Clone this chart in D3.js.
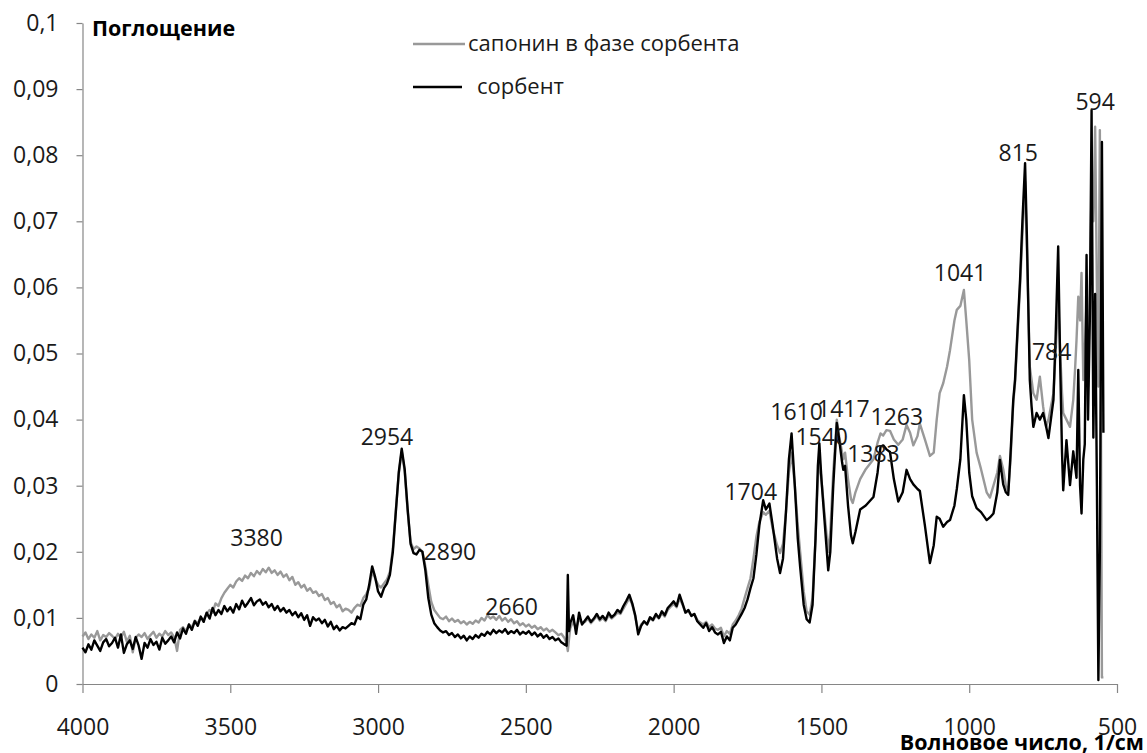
<!DOCTYPE html>
<html>
<head>
<meta charset="utf-8">
<script src="https://cdn.jsdelivr.net/npm/d3@7"></script>
<style>
  html, body { margin: 0; padding: 0; background: #fff; }
  svg { display: block; font-family: "Open Sans", "Noto Sans", sans-serif; }
</style>
</head>
<body>
<div id="irChart"></div>
<script>
// wavenumber grid, 1/cm (shared by both spectra)
const waveNumbers = [
  4000,3990,3980,3970,3960,3950,3940,3930,3920,3910,
  3900,3890,3880,3870,3860,3850,3840,3830,3820,3810,
  3800,3790,3780,3770,3760,3750,3740,3730,3720,3710,
  3700,3690,3680,3670,3660,3650,3640,3630,3620,3610,
  3600,3590,3580,3570,3560,3550,3540,3530,3520,3510,
  3500,3490,3480,3470,3460,3450,3440,3430,3420,3410,
  3400,3390,3380,3370,3360,3350,3340,3330,3320,3310,
  3300,3290,3280,3270,3260,3250,3240,3230,3220,3210,
  3200,3190,3180,3170,3160,3150,3140,3130,3120,3110,
  3100,3090,3080,3070,3060,3050,3040,3030,3020,3010,
  3000,2990,2980,2970,2960,2950,2940,2930,2920,2910,
  2900,2890,2880,2870,2860,2850,2840,2830,2820,2810,
  2800,2790,2780,2770,2760,2750,2740,2730,2720,2710,
  2700,2690,2680,2670,2660,2650,2640,2630,2620,2610,
  2600,2590,2580,2570,2560,2550,2540,2530,2520,2510,
  2500,2490,2480,2470,2460,2450,2440,2430,2420,2410,
  2400,2390,2380,2370,2362,2358,2354,2350,2340,2330,2320,2310,
  2300,2290,2280,2270,2260,2250,2240,2230,2220,2210,
  2200,2190,2180,2170,2160,2150,2140,2130,2120,2110,
  2100,2090,2080,2070,2060,2050,2040,2030,2020,2010,
  2000,1990,1980,1970,1960,1950,1940,1930,1920,1910,
  1900,1890,1880,1870,1860,1850,1840,1830,1820,1810,
  1800,1790,1780,1770,
  1760,1750,1740,1730,1720,1710,1697,1688,1676,1665,
  1650,1640,1630,1620,1610,1601,1590,1580,1572,1560,
  1550,1540,1530,1520,1512,1507,1500,1490,1477,1470,
  1460,1448,1440,1430,1426,1420,1410,1400,1394,1385,
  1369,1350,1324,1310,1300,1291,1280,1268,1255,1240,
  1225,1212,1200,1189,1175,1167,1150,1133,1120,1110,
  1100,1088,1075,1065,1050,1042,1030,1018,1010,1000,
  990,975,960,941,930,918,905,896,885,876,
  868,860,851,845,835,828,820,811,805,795,
  789,783,772,761,750,740,732,715,708,699,
  692,686,682,671,659,648,642,637,631,625,
  620,614,609,603,598,592,586,580,574,568,
  563,558,551,546
];

// сорбент (black)
const sorbentAbs = [
  0.0055,0.0048,0.0060,0.0052,0.0066,0.0058,0.0050,0.0063,0.0068,0.0057,
  0.0062,0.0070,0.0055,0.0075,0.0047,0.0060,0.0066,0.0053,0.0071,0.0058,
  0.0038,0.0062,0.0055,0.0068,0.0059,0.0064,0.0052,0.0070,0.0061,0.0066,
  0.0072,0.0063,0.0078,0.0069,0.0084,0.0076,0.0090,0.0082,0.0095,0.0088,
  0.0102,0.0094,0.0108,0.0099,0.0115,0.0104,0.0112,0.0106,0.0118,0.0110,
  0.0116,0.0108,0.0121,0.0113,0.0126,0.0117,0.0123,0.0130,0.0119,0.0125,
  0.0128,0.0120,0.0124,0.0116,0.0121,0.0112,0.0118,0.0110,0.0115,0.0108,
  0.0112,0.0104,0.0109,0.0101,0.0107,0.0097,0.0104,0.0088,0.0101,0.0096,
  0.0099,0.0092,0.0097,0.0087,0.0094,0.0083,0.0088,0.0081,0.0086,0.0084,
  0.0088,0.0092,0.0090,0.0102,0.0098,0.0120,0.0128,0.0150,0.0178,0.0162,
  0.0140,0.0132,0.0145,0.0152,0.0165,0.0200,0.0260,0.0320,0.0356,0.0325,
  0.0265,0.0212,0.0198,0.0196,0.0203,0.0200,0.0172,0.0130,0.0105,0.0092,
  0.0086,0.0081,0.0078,0.0080,0.0074,0.0077,0.0071,0.0075,0.0069,0.0073,
  0.0066,0.0072,0.0068,0.0074,0.0070,0.0076,0.0073,0.0079,0.0075,0.0082,
  0.0077,0.0081,0.0078,0.0083,0.0076,0.0080,0.0077,0.0082,0.0075,0.0079,
  0.0076,0.0080,0.0074,0.0078,0.0072,0.0076,0.0070,0.0074,0.0068,0.0071,
  0.0066,0.0069,0.0063,0.0060,0.0058,0.0165,0.0080,0.0092,0.0104,0.0076,0.0108,0.0090,
  0.0096,0.0102,0.0094,0.0099,0.0106,0.0098,0.0103,0.0097,0.0108,0.0101,
  0.0105,0.0112,0.0108,0.0118,0.0126,0.0135,0.0122,0.0104,0.0075,0.0088,
  0.0095,0.0090,0.0101,0.0097,0.0106,0.0100,0.0110,0.0104,0.0115,0.0120,
  0.0125,0.0118,0.0135,0.0122,0.0108,0.0112,0.0103,0.0106,0.0095,0.0090,
  0.0085,0.0092,0.0080,0.0086,0.0078,0.0075,0.0079,0.0062,0.0072,0.0066,
  0.0085,0.0090,0.0098,0.0106,
  0.0115,0.0128,0.0145,0.0160,0.0196,0.0240,0.0278,0.0264,0.0273,0.0240,
  0.0190,0.0168,0.0190,0.0260,0.0340,0.0379,0.0300,0.0220,0.0177,0.0120,
  0.0098,0.0093,0.0120,0.0220,0.0330,0.0364,0.0310,0.0250,0.0172,0.0200,
  0.0300,0.0395,0.0370,0.0335,0.0324,0.0330,0.0270,0.0225,0.0213,0.0230,
  0.0264,0.0270,0.0283,0.0320,0.0359,0.0361,0.0355,0.0351,0.0310,0.0276,
  0.0290,0.0324,0.0310,0.0302,0.0295,0.0292,0.0240,0.0183,0.0210,0.0253,
  0.0250,0.0238,0.0245,0.0248,0.0270,0.0295,0.0340,0.0437,0.0400,0.0320,
  0.0284,0.0266,0.0260,0.0248,0.0252,0.0258,0.0290,0.0339,0.0302,0.0290,
  0.0286,0.0350,0.0430,0.0460,0.0550,0.0611,0.0700,0.0788,0.0680,0.0460,
  0.0420,0.0389,0.0410,0.0400,0.0410,0.0390,0.0372,0.0430,0.0520,0.0662,
  0.0480,0.0350,0.0293,0.0369,0.0301,0.0352,0.0330,0.0312,0.0475,0.0300,
  0.0258,0.0340,0.0363,0.0649,0.0400,0.0550,0.0868,0.0373,0.0590,0.0300,
  0.0006,0.0200,0.0820,0.0380
];

// сапонин в фазе сорбента (grey)
const saponinAbs = [
  0.0072,0.0078,0.0068,0.0075,0.0070,0.0080,0.0066,0.0074,0.0071,0.0077,
  0.0073,0.0068,0.0076,0.0070,0.0079,0.0064,0.0073,0.0048,0.0070,0.0075,
  0.0071,0.0077,0.0068,0.0074,0.0079,0.0070,0.0076,0.0072,0.0080,0.0074,
  0.0078,0.0071,0.0050,0.0082,0.0086,0.0080,0.0090,0.0086,0.0096,0.0092,
  0.0100,0.0097,0.0106,0.0112,0.0108,0.0122,0.0118,0.0130,0.0138,0.0144,
  0.0150,0.0146,0.0155,0.0160,0.0156,0.0164,0.0160,0.0168,0.0163,0.0171,
  0.0166,0.0174,0.0169,0.0176,0.0168,0.0172,0.0165,0.0170,0.0162,0.0166,
  0.0157,0.0162,0.0150,0.0154,0.0146,0.0150,0.0141,0.0145,0.0138,0.0140,
  0.0133,0.0136,0.0127,0.0130,0.0121,0.0124,0.0116,0.0120,0.0110,0.0114,
  0.0112,0.0108,0.0115,0.0120,0.0118,0.0130,0.0136,0.0145,0.0170,0.0160,
  0.0150,0.0146,0.0152,0.0158,0.0170,0.0205,0.0262,0.0318,0.0352,0.0322,
  0.0262,0.0215,0.0204,0.0208,0.0205,0.0200,0.0178,0.0150,0.0124,0.0112,
  0.0106,0.0100,0.0098,0.0102,0.0095,0.0099,0.0094,0.0097,0.0092,0.0095,
  0.0090,0.0094,0.0091,0.0096,0.0093,0.0100,0.0096,0.0104,0.0099,0.0102,
  0.0097,0.0103,0.0096,0.0100,0.0094,0.0098,0.0092,0.0095,0.0089,0.0092,
  0.0087,0.0090,0.0085,0.0088,0.0083,0.0086,0.0081,0.0084,0.0079,0.0082,
  0.0078,0.0074,0.0076,0.0070,0.0062,0.0050,0.0068,0.0084,0.0095,0.0085,0.0098,0.0092,
  0.0094,0.0099,0.0092,0.0097,0.0103,0.0096,0.0100,0.0095,0.0104,0.0099,
  0.0103,0.0108,0.0106,0.0114,0.0122,0.0130,0.0120,0.0102,0.0080,0.0090,
  0.0094,0.0091,0.0099,0.0096,0.0103,0.0099,0.0107,0.0102,0.0112,0.0117,
  0.0121,0.0116,0.0130,0.0120,0.0108,0.0110,0.0104,0.0106,0.0097,0.0093,
  0.0090,0.0094,0.0086,0.0090,0.0084,0.0082,0.0085,0.0072,0.0080,0.0076,
  0.0090,0.0096,0.0104,0.0114,
  0.0130,0.0145,0.0160,0.0190,0.0223,0.0245,0.0260,0.0256,0.0262,0.0235,
  0.0210,0.0198,0.0212,0.0260,0.0320,0.0350,0.0300,0.0240,0.0200,0.0140,
  0.0110,0.0105,0.0130,0.0220,0.0310,0.0340,0.0310,0.0260,0.0200,0.0230,
  0.0320,0.0400,0.0375,0.0350,0.0340,0.0350,0.0310,0.0280,0.0274,0.0290,
  0.0310,0.0325,0.0340,0.0365,0.0379,0.0376,0.0384,0.0383,0.0370,0.0362,
  0.0370,0.0392,0.0380,0.0361,0.0375,0.0394,0.0370,0.0345,0.0350,0.0400,
  0.0440,0.0455,0.0480,0.0505,0.0550,0.0566,0.0572,0.0596,0.0550,0.0490,
  0.0400,0.0350,0.0325,0.0290,0.0282,0.0300,0.0320,0.0345,0.0325,0.0300,
  0.0292,0.0340,0.0425,0.0455,0.0540,0.0600,0.0680,0.0760,0.0660,0.0480,
  0.0460,0.0440,0.0430,0.0465,0.0420,0.0389,0.0400,0.0440,0.0500,0.0580,
  0.0500,0.0440,0.0410,0.0400,0.0389,0.0430,0.0475,0.0520,0.0586,0.0550,
  0.0622,0.0460,0.0500,0.0580,0.0450,0.0600,0.0750,0.0700,0.0843,0.0600,
  0.0450,0.0838,0.0010,0.0010
];

// peak annotations: label, centre wavenumber, centre absorbance
const peakText = ['3380','2954','2890','2660','1704','1610','1540','1417','1383','1263','1041','815','784','594'];
const peakWave = [3411, 2970, 2757, 2548, 1739, 1584, 1499, 1426, 1324, 1245, 1031, 834, 721, 574];
const peakAbs  = [0.0221, 0.0374, 0.0200, 0.0117, 0.0291, 0.0412, 0.0374, 0.0417, 0.0348, 0.0404, 0.0622, 0.0803, 0.0503, 0.0881];

const xTicks = [4000, 3500, 3000, 2500, 2000, 1500, 1000, 500];
const yTicks = [0, 0.01, 0.02, 0.03, 0.04, 0.05, 0.06, 0.07, 0.08, 0.09, 0.1];

const seriesNames = ['сапонин в фазе сорбента', 'сорбент'];
const seriesColors = ['#999999', '#000000'];

const W = 1147, H = 753;
const plot = { left: 82.5, right: 1117, top: 23, bottom: 684 };
const axisColor = '#868686';
const textColor = '#1a1a1a';

function buildChart(){
	const svg = d3.select('#irChart').append('svg')
		.attr('width', W).attr('height', H);

	svg.append('rect').attr('width', W).attr('height', H).attr('fill', '#fff');

	const x = d3.scaleLinear().domain([4000, 500]).range([plot.left, plot.right]);
	const y = d3.scaleLinear().domain([0, 0.1]).range([plot.bottom, plot.top]);

	const commaFmt = d => d3.format('.2~f')(d).replace('.', ',');

	// y axis
	const yAxisG = svg.append('g')
		.attr('transform', `translate(${plot.left},0)`)
		.call(d3.axisLeft(y).tickValues(yTicks).tickFormat(commaFmt).tickSize(6).tickSizeOuter(0).tickPadding(18));

	// x axis
	const xAxisG = svg.append('g')
		.attr('transform', `translate(0,${plot.bottom})`)
		.call(d3.axisBottom(x).tickValues(xTicks).tickFormat(d3.format('d')).tickSize(9).tickSizeOuter(0).tickPadding(25));

	[yAxisG, xAxisG].forEach(g => {
		g.select('.domain').attr('stroke', axisColor).attr('stroke-width', 1.2);
		g.selectAll('.tick line').attr('stroke', axisColor).attr('stroke-width', 1.2);
		g.selectAll('.tick text')
			.attr('fill', textColor)
			.style('font-size', '23px')
			.style('font-family', '"Open Sans", sans-serif');
	});
	xAxisG.selectAll('.tick text').attr('dy', 0).attr('y', 51);

	// spectra, grey first so black sits on top
	const line = d3.line()
		.x(d => x(d[0]))
		.y(d => y(d[1]));

	const series = [saponinAbs, sorbentAbs];
	series.forEach((vals, i) => {
		const pts = waveNumbers.map((w, j) => [w, vals[j]]);
		svg.append('path')
			.datum(pts)
			.attr('d', line)
			.attr('fill', 'none')
			.attr('stroke', seriesColors[i])
			.attr('stroke-width', 2.4)
			.attr('stroke-linejoin', 'round');
	});

	// peak labels
	svg.append('g').selectAll('text')
		.data(peakText)
		.enter().append('text')
		.attr('x', (d, i) => x(peakWave[i]))
		.attr('y', (d, i) => y(peakAbs[i]))
		.attr('dy', '0.36em')
		.attr('text-anchor', 'middle')
		.attr('fill', textColor)
		.style('font-size', '23px')
		.text(d => d);

	// legend
	const legendRows = [
		{ y: 44, x1: 413, x2: 465, tx: 468 },
		{ y: 87, x1: 413, x2: 462, tx: 477 }
	];
	legendRows.forEach((r, i) => {
		svg.append('line')
			.attr('x1', r.x1).attr('x2', r.x2)
			.attr('y1', r.y).attr('y2', r.y)
			.attr('stroke', seriesColors[i]).attr('stroke-width', 2.4);
		svg.append('text')
			.attr('x', r.tx).attr('y', r.y)
			.attr('dy', '0.32em')
			.attr('fill', textColor)
			.style('font-size', '22px')
			.text(seriesNames[i]);
	});

	// axis titles
	svg.append('text')
		.attr('x', 92).attr('y', 36)
		.attr('fill', '#000')
		.style('font-size', '21.5px').style('font-weight', 'bold')
		.text('Поглощение');

	svg.append('text')
		.attr('x', 1144).attr('y', 750)
		.attr('text-anchor', 'end')
		.attr('fill', '#000')
		.style('font-size', '21.5px').style('font-weight', 'bold')
		.text('Волновое число, 1/см');
}

buildChart();
</script>
</body>
</html>
